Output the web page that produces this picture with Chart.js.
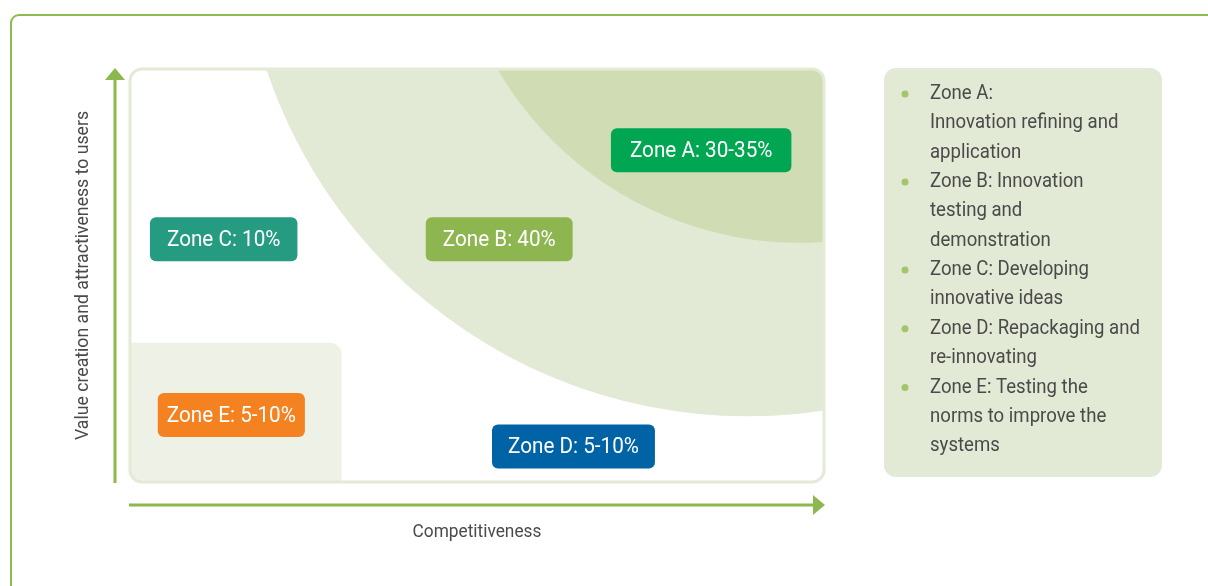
<!DOCTYPE html>
<html>
<head>
<meta charset="utf-8">
<script src="https://cdn.jsdelivr.net/npm/chart.js@4.4.0/dist/chart.umd.min.js"></script>
<style>
  html, body { margin: 0; padding: 0; background: #fff; }
  #wrap { width: 1208px; height: 586px; }
</style>
</head>
<body>
<div id="wrap"><canvas id="zoneChart"></canvas></div>
<script>
// zone labels and where they sit on the competitiveness / value grid (0-100)
const zoneLabels = ['Zone A: 30-35%', 'Zone B: 40%', 'Zone C: 10%', 'Zone D: 5-10%', 'Zone E: 5-10%'];
const zoneX = [82.3, 53.2, 13.5, 63.9, 14.6];
const zoneY = [80.3, 58.8, 58.8, 8.6, 16.2];

// zone areas, in the same grid units
const zoneAArc = { cx: 96.5, cy: 142.6, rx: 50.4, ry: 84.7 };
const zoneBArc = { cx: 89.0, cy: 138.8, rx: 73.1, ry: 122.9 };
const zoneEBox = { x0: 0, x1: 30.5, y0: 0, y1: 33.7 };

const xTitle = 'Competitiveness';
const yTitle = 'Value creation and attractiveness to users';

const legendItems = [
  ['Zone A:', 'Innovation refining and', 'application'],
  ['Zone B: Innovation', 'testing and', 'demonstration'],
  ['Zone C: Developing', 'innovative ideas'],
  ['Zone D: Repackaging and', 're-innovating'],
  ['Zone E: Testing the', 'norms to improve the', 'systems']
];

const COLORS = {
  frame: '#8cbb50',
  arrow: '#8cb84e',
  plotBorder: '#e3ead6',
  zoneB: '#e2ead5',
  zoneA: '#d0dcb3',
  zoneE: '#eef2e6',
  legendBg: '#e2ead5',
  bullet: '#a3c66c',
  text: '#4a4a4a',
  labels: ['#00a651', '#8db650', '#259b82', '#0063a6', '#f58220']
};
const LABEL_PAD = [19, 17, 17, 16, 9];

const FONT = 'Roboto, "Liberation Sans", sans-serif';
const NARROW = 0.93; // the source uses a condensed face

function roundRect(ctx, x, y, w, h, r) {
  ctx.beginPath();
  ctx.moveTo(x + r, y);
  ctx.arcTo(x + w, y, x + w, y + h, r);
  ctx.arcTo(x + w, y + h, x, y + h, r);
  ctx.arcTo(x, y + h, x, y, r);
  ctx.arcTo(x, y, x + w, y, r);
  ctx.closePath();
}

function narrowText(ctx, text, x, y, sx) {
  ctx.save();
  ctx.translate(x, y);
  ctx.scale(sx, 1);
  ctx.fillText(text, 0, 0);
  ctx.restore();
}

function fillEllipse(ctx, xs, ys, arc, color) {
  const cx = xs.getPixelForValue(arc.cx);
  const cy = ys.getPixelForValue(arc.cy);
  const rx = Math.abs(xs.getPixelForValue(arc.cx + arc.rx) - cx);
  const ry = Math.abs(ys.getPixelForValue(arc.cy + arc.ry) - cy);
  ctx.beginPath();
  ctx.ellipse(cx, cy, rx, ry, 0, 0, Math.PI * 2);
  ctx.fillStyle = color;
  ctx.fill();
}

const zonePlugin = {
  id: 'zonePlugin',
  beforeDatasetsDraw(chart) {
    const { ctx, chartArea: a, scales: { x, y } } = chart;
    ctx.save();

    // outer frame
    ctx.strokeStyle = COLORS.frame;
    ctx.lineWidth = 2;
    ctx.beginPath();
    ctx.moveTo(11, 600);
    ctx.lineTo(11, 22);
    ctx.arcTo(11, 15, 18, 15, 8);
    ctx.lineTo(1220, 15);
    ctx.stroke();

    // plot area with zone shapes
    roundRect(ctx, a.left, a.top, a.width, a.height, 12);
    ctx.fillStyle = '#fff';
    ctx.fill();
    ctx.save();
    roundRect(ctx, a.left, a.top, a.width, a.height, 12);
    ctx.clip();
    fillEllipse(ctx, x, y, zoneBArc, COLORS.zoneB);
    fillEllipse(ctx, x, y, zoneAArc, COLORS.zoneA);
    const ex0 = x.getPixelForValue(zoneEBox.x0), ex1 = x.getPixelForValue(zoneEBox.x1);
    const ey0 = y.getPixelForValue(zoneEBox.y1), ey1 = y.getPixelForValue(zoneEBox.y0);
    roundRect(ctx, ex0 - 20, ey0, ex1 - ex0 + 20, ey1 - ey0 + 20, 12);
    ctx.fillStyle = COLORS.zoneE;
    ctx.fill();
    ctx.restore();
    roundRect(ctx, a.left, a.top, a.width, a.height, 12);
    ctx.strokeStyle = COLORS.plotBorder;
    ctx.lineWidth = 3;
    ctx.stroke();

    // axis arrows
    ctx.strokeStyle = COLORS.arrow;
    ctx.fillStyle = COLORS.arrow;
    ctx.lineWidth = 3;
    ctx.beginPath();
    ctx.moveTo(a.left - 15, a.bottom + 1);
    ctx.lineTo(a.left - 15, a.top + 10);
    ctx.stroke();
    ctx.beginPath();
    ctx.moveTo(a.left - 15, a.top - 1);
    ctx.lineTo(a.left - 25, a.top + 11);
    ctx.lineTo(a.left - 5, a.top + 11);
    ctx.closePath();
    ctx.fill();
    ctx.beginPath();
    ctx.moveTo(a.left - 1, a.bottom + 23);
    ctx.lineTo(a.right - 10, a.bottom + 23);
    ctx.stroke();
    ctx.beginPath();
    ctx.moveTo(a.right + 1, a.bottom + 23);
    ctx.lineTo(a.right - 11, a.bottom + 13);
    ctx.lineTo(a.right - 11, a.bottom + 33);
    ctx.closePath();
    ctx.fill();

    // axis titles
    ctx.fillStyle = COLORS.text;
    ctx.font = '19px ' + FONT;
    ctx.textAlign = 'center';
    ctx.textBaseline = 'middle';
    narrowText(ctx, xTitle, (a.left + a.right) / 2, a.bottom + 50, 0.91);
    ctx.save();
    ctx.translate(a.left - 47, (a.top + a.bottom) / 2);
    ctx.rotate(-Math.PI / 2);
    narrowText(ctx, yTitle, 0, 0, NARROW);
    ctx.restore();

    // legend panel
    roundRect(ctx, 884, 68, 278, 409, 12);
    ctx.fillStyle = COLORS.legendBg;
    ctx.fill();
    ctx.font = '20px ' + FONT;
    ctx.textAlign = 'left';
    let line = 0;
    legendItems.forEach((item) => {
      item.forEach((text, i) => {
        const ty = 94 + line * 29.35;
        if (i === 0) {
          ctx.beginPath();
          ctx.arc(905, ty, 3.5, 0, Math.PI * 2);
          ctx.fillStyle = COLORS.bullet;
          ctx.fill();
        }
        ctx.fillStyle = COLORS.text;
        narrowText(ctx, text, 930, ty, NARROW);
        line++;
      });
    });
    ctx.restore();
  },
  afterDatasetsDraw(chart) {
    const { ctx } = chart;
    const meta = chart.getDatasetMeta(0);
    ctx.save();
    ctx.font = '22px ' + FONT;
    ctx.textAlign = 'center';
    ctx.textBaseline = 'middle';
    meta.data.forEach((pt, i) => {
      const w = ctx.measureText(zoneLabels[i]).width * 0.94 + LABEL_PAD[i] * 2;
      const h = 44;
      roundRect(ctx, pt.x - w / 2, pt.y - h / 2, w, h, 6);
      ctx.fillStyle = COLORS.labels[i];
      ctx.fill();
      ctx.fillStyle = '#fff';
      narrowText(ctx, zoneLabels[i], pt.x, pt.y + 1, 0.94);
    });
    ctx.restore();
  }
};

new Chart(document.getElementById('zoneChart'), {
  type: 'scatter',
  data: {
    datasets: [{
      label: 'Zones',
      data: zoneX.map((v, i) => ({ x: v, y: zoneY[i] })),
      pointRadius: 0,
      pointHoverRadius: 0
    }]
  },
  options: {
    responsive: true,
    maintainAspectRatio: false,
    animation: false,
    layout: { padding: { left: 130, right: 384, top: 69, bottom: 104 } },
    plugins: { legend: { display: false }, tooltip: { enabled: false } },
    scales: {
      x: { type: 'linear', min: 0, max: 100, display: false },
      y: { type: 'linear', min: 0, max: 100, display: false }
    }
  },
  plugins: [zonePlugin]
});
</script>
</body>
</html>
